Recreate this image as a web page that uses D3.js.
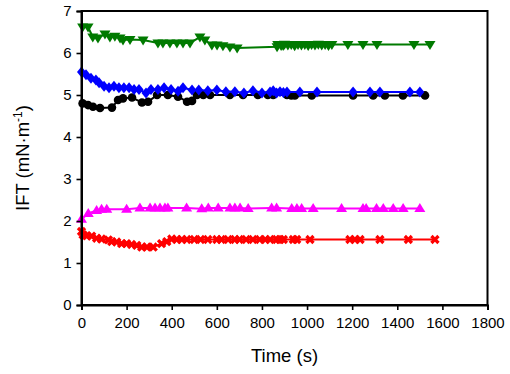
<!DOCTYPE html>
<html><head><meta charset="utf-8">
<script src="https://cdn.jsdelivr.net/npm/d3@7"></script>
<style>body{margin:0;background:#fff}svg{display:block}</style>
</head><body>
<svg id="c" width="510" height="374"></svg>
<script>
const xTicks = [0,200,400,600,800,1000,1200,1400,1600,1800];
const yTicks = [0,1,2,3,4,5,6,7];
const xTitle = "Time (s)";
const yTitle = "IFT (mN·m";

const greenT = [5,29,50,73,104,126,148,171,184,215,273,339,361,392,423,450,481,525,547,578,601,627,658,690,867,894,870,885,900,915,930,945,960,975,990,1005,1020,1035,1050,1065,1080,1095,1110,1181,1248,1310,1474,1545];
const greenV = [6.62,6.62,6.38,6.36,6.45,6.38,6.40,6.36,6.31,6.32,6.31,6.24,6.24,6.24,6.24,6.24,6.24,6.38,6.31,6.19,6.19,6.17,6.14,6.12,6.15,6.18,6.2,6.18,6.21,6.19,6.2,6.17,6.2,6.19,6.2,6.18,6.2,6.19,6.21,6.19,6.2,6.18,6.2,6.2,6.2,6.2,6.2,6.2];

const blueT = [0,20,42,64,78,100,122,144,166,188,211,233,255,286,308,339,366,397,428,450,490,520,560,600,640,680,720,760,800,836,850,865,880,895,911,968,1044,1204,1279,1323,1456,1500];
const blueV = [5.55,5.48,5.40,5.36,5.29,5.21,5.17,5.21,5.17,5.17,5.17,5.13,5.13,5.05,5.13,5.13,5.17,5.13,5.09,5.17,5.12,5.12,5.1,5.12,5.08,5.08,5.05,5.1,5.05,5.07,5.1,5.05,5.08,5.06,5.07,5.07,5.07,5.07,5.07,5.07,5.07,5.07];

const blackT = [5,29,51,82,135,162,184,224,268,295,335,383,428,468,490,512,540,570,658,716,782,826,850,911,930,946,1021,1204,1293,1345,1425,1523];
const blackV = [4.80,4.76,4.72,4.69,4.70,4.88,4.92,4.94,4.82,4.84,5.0,5.0,4.96,4.84,4.86,5.0,5.0,5.0,5.0,5.0,5.0,5.0,5.0,5.0,4.99,4.99,4.99,4.99,4.99,4.99,4.99,4.99];

const magT = [0,30,67,89,112,200,259,304,326,348,370,383,466,533,562,606,658,680,703,739,843,865,932,955,976,1027,1153,1248,1262,1308,1338,1382,1426,1500];
const magV = [2.04,2.18,2.25,2.28,2.28,2.28,2.31,2.31,2.31,2.31,2.31,2.31,2.31,2.29,2.31,2.31,2.31,2.31,2.31,2.30,2.31,2.31,2.30,2.30,2.30,2.30,2.30,2.30,2.30,2.30,2.30,2.30,2.30,2.30];

const redT = [0,7,23,45,67,89,119,134,156,178,200,222,245,267,290,318,355,378,400,422,445,467,500,528,560,600,620,650,680,700,730,760,790,815,836,865,880,895,939,954,1013,1190,1212,1235,1323,1449,1567];
const redV = [1.75,1.67,1.65,1.64,1.59,1.57,1.55,1.51,1.50,1.46,1.46,1.44,1.42,1.38,1.38,1.38,1.46,1.51,1.57,1.56,1.56,1.56,1.56,1.56,1.56,1.56,1.56,1.56,1.56,1.56,1.56,1.56,1.56,1.56,1.56,1.56,1.56,1.56,1.56,1.56,1.56,1.56,1.56,1.56,1.56,1.56,1.56];

const series = [
  {t: redT, v: redV, color: "#ff0000", sym: "x"},
  {t: magT, v: magV, color: "#ff00ff", sym: "up"},
  {t: blackT, v: blackV, color: "#000000", sym: "circle"},
  {t: blueT, v: blueV, color: "#0000ff", sym: "diamond"},
  {t: greenT, v: greenV, color: "#007a00", sym: "down"}
];

const svg = d3.select("#c");
const m = {l: 81.5, r: 487.5, t: 11, b: 305};
const x = d3.scaleLinear().domain([0,1800]).range([m.l, m.r]);
const y = d3.scaleLinear().domain([0,7]).range([m.b, m.t]);
const font = "Liberation Sans, Arial, Helvetica, sans-serif";

series.forEach(s => {
  const pts = s.t.map((t,i)=>({t, v: s.v[i]})).sort((a,b)=>a.t-b.t);
  svg.append("path").datum(pts)
    .attr("fill","none").attr("stroke", s.color).attr("stroke-width",2)
    .attr("d", d3.line().x(d=>x(d.t)).y(d=>y(d.v)));
  const g = svg.append("g");
  pts.forEach(p => {
    const cx = x(p.t), cy = y(p.v);
    if (s.sym === "circle") {
      g.append("circle").attr("cx",cx).attr("cy",cy).attr("r",4.3).attr("fill",s.color);
    } else if (s.sym === "diamond") {
      g.append("path").attr("d",`M${cx},${cy-5.5}L${cx+4.5},${cy}L${cx},${cy+5.5}L${cx-4.5},${cy}Z`).attr("fill",s.color);
    } else if (s.sym === "up") {
      g.append("path").attr("d",`M${cx},${cy-5.5}L${cx+5.5},${cy+3.5}L${cx-5.5},${cy+3.5}Z`).attr("fill",s.color);
    } else if (s.sym === "down") {
      g.append("path").attr("d",`M${cx},${cy+5.5}L${cx+5.5},${cy-3.5}L${cx-5.5},${cy-3.5}Z`).attr("fill",s.color);
    } else {
      g.append("path").attr("d",d3.symbol(d3.symbolCross, 55)()).attr("transform",`translate(${cx},${cy}) rotate(45)`).attr("fill",s.color);
    }
  });
});

svg.append("rect").attr("x",m.l).attr("y",m.t).attr("width",m.r-m.l).attr("height",m.b-m.t)
  .attr("fill","none").attr("stroke","#000").attr("stroke-width",2);

const xa = svg.append("g").attr("transform",`translate(0,${m.b})`)
  .call(d3.axisBottom(x).tickValues(xTicks).tickSize(5).tickPadding(7).tickFormat(d3.format("d")));
const ya = svg.append("g").attr("transform",`translate(${m.l},0)`)
  .call(d3.axisLeft(y).tickValues(yTicks).tickSize(5).tickPadding(5).tickFormat(d3.format("d")));
[xa, ya].forEach(a => {
  a.select(".domain").attr("stroke-width",2);
  a.selectAll(".tick line").attr("stroke-width",1.6);
  a.selectAll("text").attr("font-family",font).attr("font-size",15).attr("fill","#000");
});

svg.append("text").attr("x",(m.l+m.r)/2).attr("y",362).attr("text-anchor","middle")
  .attr("font-family",font).attr("font-size",18.5).text(xTitle);
const yt = svg.append("text").attr("transform",`translate(29,${(m.t+m.b)/2}) rotate(-90)`)
  .attr("text-anchor","middle").attr("font-family",font).attr("font-size",18.5);
yt.append("tspan").text(yTitle);
yt.append("tspan").attr("font-size",12).attr("dy",-7).text("-1");
yt.append("tspan").attr("dy",7).text(")");
</script>
</body></html>
